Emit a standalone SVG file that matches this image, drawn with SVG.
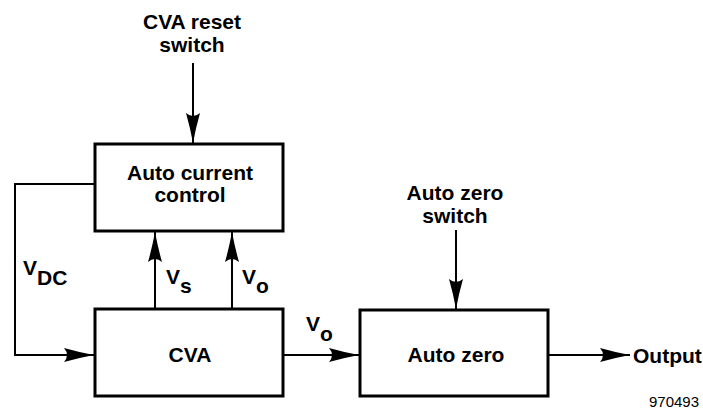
<svg xmlns="http://www.w3.org/2000/svg" width="703" height="411" viewBox="0 0 703 411">
<style>
.box{fill:#fff;stroke:#000;stroke-width:3}
.ln{fill:none;stroke:#000;stroke-width:2}
text{font-family:"Liberation Sans",Arial,sans-serif;font-weight:bold;font-size:21px;fill:#000}
.c{text-anchor:middle}
.num{font-weight:normal;font-size:15px}
</style>
<defs>
<marker id="ah" markerUnits="userSpaceOnUse" markerWidth="32" markerHeight="16" refX="30" refY="8" orient="auto" viewBox="0 0 32 16">
<path d="M30,8 Q14,5 0,1 Q6,8 0,15 Q14,11 30,8 Z" fill="#000"/>
</marker>
</defs>
<rect width="703" height="411" fill="#fff"/>
<g id="connectors">
<line class="ln" x1="193" y1="63" x2="193" y2="143" marker-end="url(#ah)"/>
<polyline class="ln" points="95,184 15,184 15,355 94,355" marker-end="url(#ah)"/>
<line class="ln" x1="155" y1="309" x2="155" y2="232" marker-end="url(#ah)"/>
<line class="ln" x1="232" y1="309" x2="232" y2="232" marker-end="url(#ah)"/>
<line class="ln" x1="283" y1="355" x2="359" y2="355" marker-end="url(#ah)"/>
<line class="ln" x1="456" y1="230" x2="456" y2="309" marker-end="url(#ah)"/>
<line class="ln" x1="548" y1="355" x2="630" y2="355" marker-end="url(#ah)"/>
</g>
<g id="cva-reset-switch">
<text class="c" x="192" y="29">CVA reset</text>
<text class="c" x="192" y="52">switch</text>
</g>
<g id="auto-current-control">
<rect class="box" x="95" y="144" width="188" height="87"/>
<text class="c" x="190" y="180">Auto current</text>
<text class="c" x="190" y="202">control</text>
</g>
<g id="cva">
<rect class="box" x="95" y="309" width="188" height="87"/>
<text class="c" x="190" y="362">CVA</text>
</g>
<g id="auto-zero-switch">
<text class="c" x="455" y="200">Auto zero</text>
<text class="c" x="455" y="223">switch</text>
</g>
<g id="auto-zero">
<rect class="box" x="360" y="310" width="188" height="86"/>
<text class="c" x="456" y="362">Auto zero</text>
</g>
<g id="labels">
<text x="23" y="275">V<tspan y="285">DC</tspan></text>
<text x="166" y="284">V<tspan y="293">s</tspan></text>
<text x="242" y="284">V<tspan y="293">o</tspan></text>
<text x="306" y="331">V<tspan y="341">o</tspan></text>
<text x="633" y="363">Output</text>
<text class="num" x="649" y="407">970493</text>
</g>
</svg>
